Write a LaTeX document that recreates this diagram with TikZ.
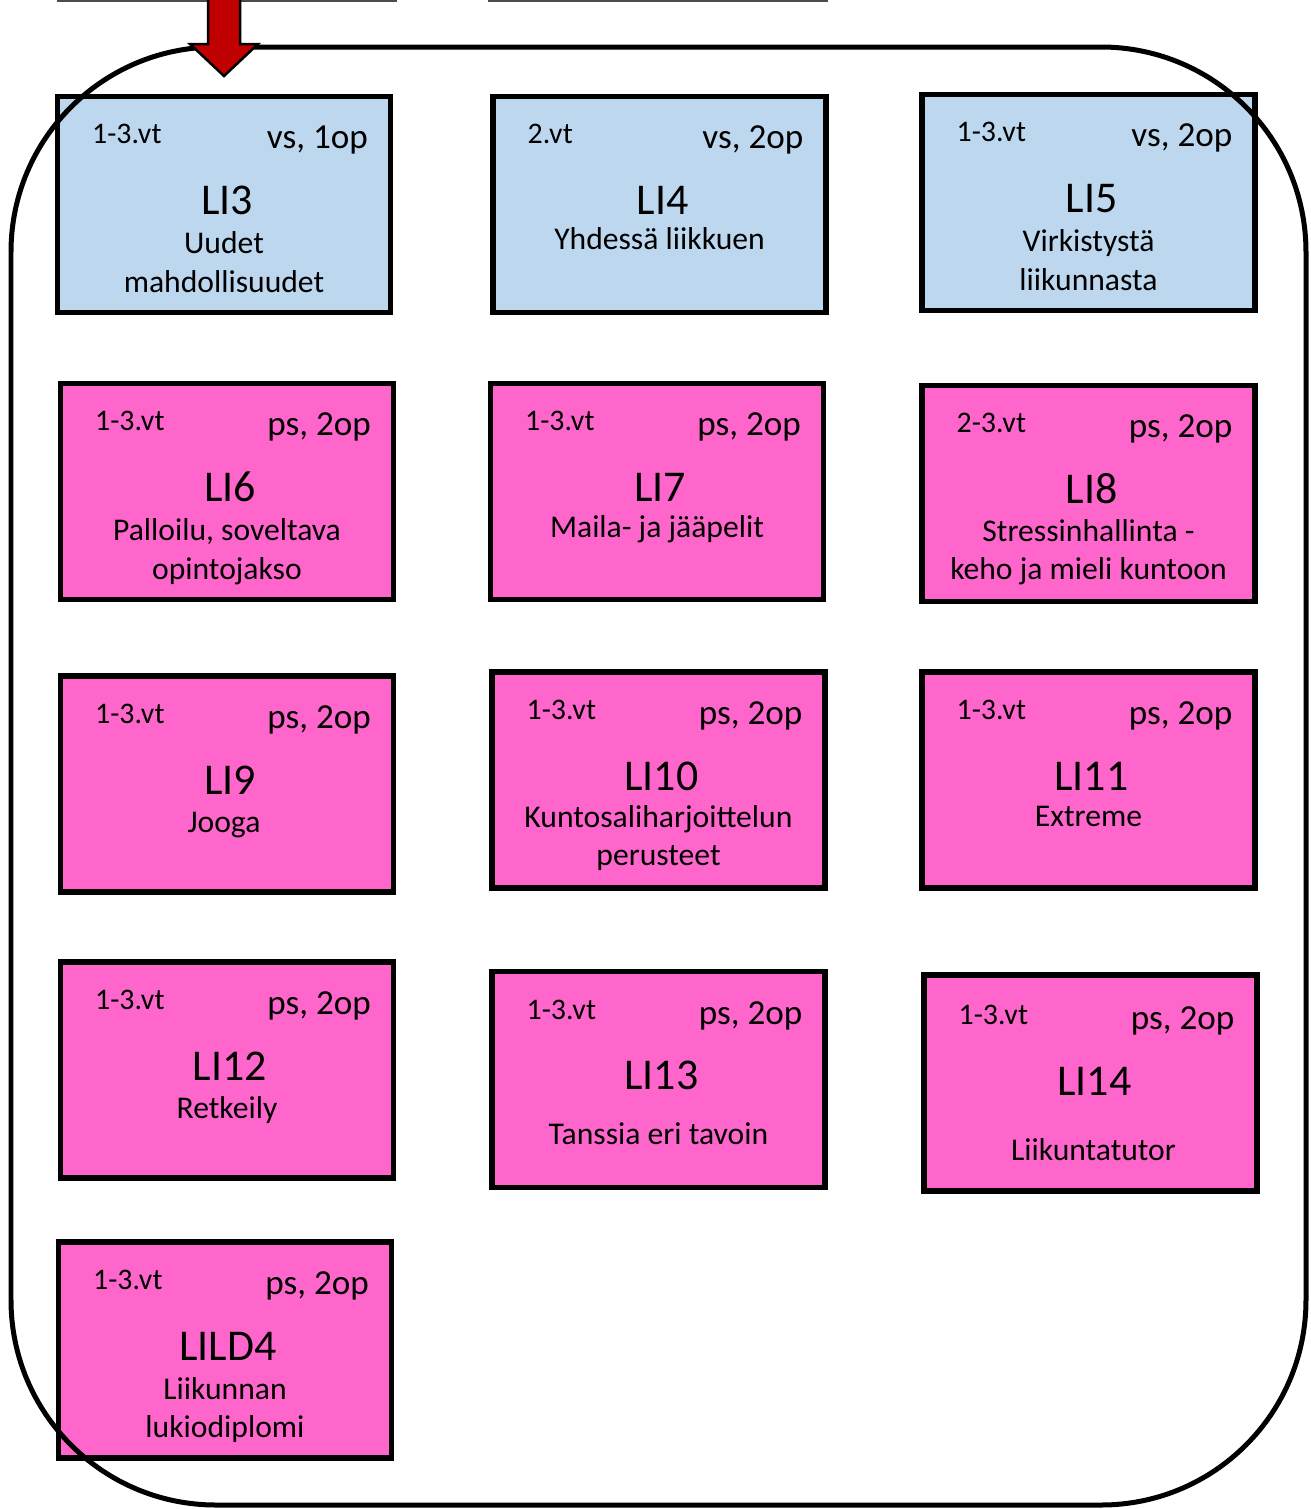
\documentclass[tikz,border=0pt]{standalone}
\usepackage{fontspec}
\setmainfont{Carlito}
\definecolor{vsblue}{HTML}{BDD7EE}
\definecolor{pspink}{HTML}{FF66CC}
\definecolor{arrowred}{HTML}{C00000}

\begin{document}
\begin{tikzpicture}[x=0.02cm, y=-0.02cm]
    \tikzset{
        course/.style={draw=black, line width=0.11cm, minimum width=6.66cm,
            minimum height=4.32cm, inner sep=0pt},
        vsbox/.style={course, fill=vsblue},
        psbox/.style={course, fill=pspink},
        boxtxt/.style={inner sep=0pt, yshift=-0.08cm},
        termtxt/.style={boxtxt, anchor=base west, font=\fontsize{17}{20}\selectfont},
        credittxt/.style={boxtxt, anchor=base east, font=\fontsize{20}{24}\selectfont},
        codetxt/.style={boxtxt, anchor=base, font=\fontsize{25}{30}\selectfont},
        topictxt/.style={boxtxt, anchor=base, font=\fontsize{18}{22}\selectfont},
    }
    \useasboundingbox (0,0) rectangle (1311,1509);

    % Cut edges at the top
    \draw[line width=0.04cm, black!70] (57,0.5) -- (397,0.5);
    \draw[line width=0.04cm, black!70] (488,0.5) -- (828,0.5);

    % Boxes
    \node[vsbox] (li3) at (224,204.5) {};
    \node[vsbox] (li4) at (659.5,204.5) {};
    \node[vsbox] (li5) at (1088.5,202.5) {};
    \node[psbox] (li6) at (227,491.5) {};
    \node[psbox] (li7) at (657,491.5) {};
    \node[psbox] (li8) at (1088.5,493.5) {};
    \node[psbox] (li9) at (227,784) {};
    \node[psbox] (li10) at (658.5,780) {};
    \node[psbox] (li11) at (1088.5,780) {};
    \node[psbox] (li12) at (227,1070) {};
    \node[psbox] (li13) at (658.5,1079.5) {};
    \node[psbox] (li14) at (1090.5,1083) {};
    \node[psbox] (lild4) at (225,1350) {};

    % Texts
    \node[termtxt] (li3t) at ([shift={(37,46)}]li3.north west) {1-3.vt};
    \node[credittxt] (li3c) at ([shift={(-25,51)}]li3.north east) {vs, 1op};
    \node[codetxt] (li3n) at ([shift={(3,117)}]li3.north) {LI3};
    \node[topictxt] (li3a) at ([shift={(0,156)}]li3.north) {Uudet};
    \node[topictxt] (li3b) at ([shift={(0,195)}]li3.north) {mahdollisuudet};

    \node[termtxt] (li4t) at ([shift={(37,46)}]li4.north west) {2.vt};
    \node[credittxt] (li4c) at ([shift={(-25,51)}]li4.north east) {vs, 2op};
    \node[codetxt] (li4n) at ([shift={(3,117)}]li4.north) {LI4};
    \node[topictxt] (li4a) at ([shift={(0,152)}]li4.north) {Yhdessä liikkuen};

    \node[termtxt] (li5t) at ([shift={(37,46)}]li5.north west) {1-3.vt};
    \node[credittxt] (li5c) at ([shift={(-25,51)}]li5.north east) {vs, 2op};
    \node[codetxt] (li5n) at ([shift={(3,117)}]li5.north) {LI5};
    \node[topictxt] (li5a) at ([shift={(0,156)}]li5.north) {Virkistystä};
    \node[topictxt] (li5b) at ([shift={(0,195)}]li5.north) {liikunnasta};

    \node[termtxt] (li6t) at ([shift={(37,46)}]li6.north west) {1-3.vt};
    \node[credittxt] (li6c) at ([shift={(-25,51)}]li6.north east) {ps, 2op};
    \node[codetxt] (li6n) at ([shift={(3,117)}]li6.north) {LI6};
    \node[topictxt] (li6a) at ([shift={(0,156)}]li6.north) {Palloilu, soveltava};
    \node[topictxt] (li6b) at ([shift={(0,195)}]li6.north) {opintojakso};

    \node[termtxt] (li7t) at ([shift={(37,46)}]li7.north west) {1-3.vt};
    \node[credittxt] (li7c) at ([shift={(-25,51)}]li7.north east) {ps, 2op};
    \node[codetxt] (li7n) at ([shift={(3,117)}]li7.north) {LI7};
    \node[topictxt] (li7a) at ([shift={(0,153)}]li7.north) {Maila- ja jääpelit};

    \node[termtxt] (li8t) at ([shift={(37,46)}]li8.north west) {2-3.vt};
    \node[credittxt] (li8c) at ([shift={(-25,51)}]li8.north east) {ps, 2op};
    \node[codetxt] (li8n) at ([shift={(3,117)}]li8.north) {LI8};
    \node[topictxt] (li8a) at ([shift={(0,155)}]li8.north) {Stressinhallinta -};
    \node[topictxt] (li8b) at ([shift={(0,193)}]li8.north) {keho ja mieli kuntoon};

    \node[termtxt] (li9t) at ([shift={(37,46)}]li9.north west) {1-3.vt};
    \node[credittxt] (li9c) at ([shift={(-25,51)}]li9.north east) {ps, 2op};
    \node[codetxt] (li9n) at ([shift={(3,117)}]li9.north) {LI9};
    \node[topictxt] (li9a) at ([shift={(-3,155)}]li9.north) {Jooga};

    \node[termtxt] (li10t) at ([shift={(37,46)}]li10.north west) {1-3.vt};
    \node[credittxt] (li10c) at ([shift={(-25,51)}]li10.north east) {ps, 2op};
    \node[codetxt] (li10n) at ([shift={(3,117)}]li10.north) {LI10};
    \node[topictxt] (li10a) at ([shift={(0,154)}]li10.north) {Kuntosaliharjoittelun};
    \node[topictxt] (li10b) at ([shift={(0,192)}]li10.north) {perusteet};

    \node[termtxt] (li11t) at ([shift={(37,46)}]li11.north west) {1-3.vt};
    \node[credittxt] (li11c) at ([shift={(-25,51)}]li11.north east) {ps, 2op};
    \node[codetxt] (li11n) at ([shift={(3,117)}]li11.north) {LI11};
    \node[topictxt] (li11a) at ([shift={(0,153)}]li11.north) {Extreme};

    \node[termtxt] (li12t) at ([shift={(37,46)}]li12.north west) {1-3.vt};
    \node[credittxt] (li12c) at ([shift={(-25,51)}]li12.north east) {ps, 2op};
    \node[codetxt] (li12n) at ([shift={(3,117)}]li12.north) {LI12};
    \node[topictxt] (li12a) at ([shift={(0,155)}]li12.north) {Retkeily};

    \node[termtxt] (li13t) at ([shift={(37,47)}]li13.north west) {1-3.vt};
    \node[credittxt] (li13c) at ([shift={(-25,52)}]li13.north east) {ps, 2op};
    \node[codetxt] (li13n) at ([shift={(3,117)}]li13.north) {LI13};
    \node[topictxt] (li13a) at ([shift={(0,172)}]li13.north) {Tanssia eri tavoin};

    \node[termtxt] (li14t) at ([shift={(37,48)}]li14.north west) {1-3.vt};
    \node[credittxt] (li14c) at ([shift={(-25,53)}]li14.north east) {ps, 2op};
    \node[codetxt] (li14n) at ([shift={(4,119)}]li14.north) {LI14};
    \node[topictxt] (li14a) at ([shift={(3,184)}]li14.north) {Liikuntatutor};

    \node[termtxt] (lild4t) at ([shift={(37,46)}]lild4.north west) {1-3.vt};
    \node[credittxt] (lild4c) at ([shift={(-25,51)}]lild4.north east) {ps, 2op};
    \node[codetxt] (lild4n) at ([shift={(3,117)}]lild4.north) {LILD4};
    \node[topictxt] (lild4a) at ([shift={(0,156)}]lild4.north) {Liikunnan};
    \node[topictxt] (lild4b) at ([shift={(0,194)}]lild4.north) {lukiodiplomi};

    % Frame
    \draw[line width=0.1cm, rounded corners=4.1cm] (11,47) rectangle (1306,1505);

    % Entry arrow
    \draw[line width=0.05cm, fill=arrowred, line join=miter]
        (208,-5) -- (208,44) -- (190,44) -- (224,76) -- (258,44)
        -- (240,44) -- (240,-5) -- cycle;

\end{tikzpicture}
\end{document}
